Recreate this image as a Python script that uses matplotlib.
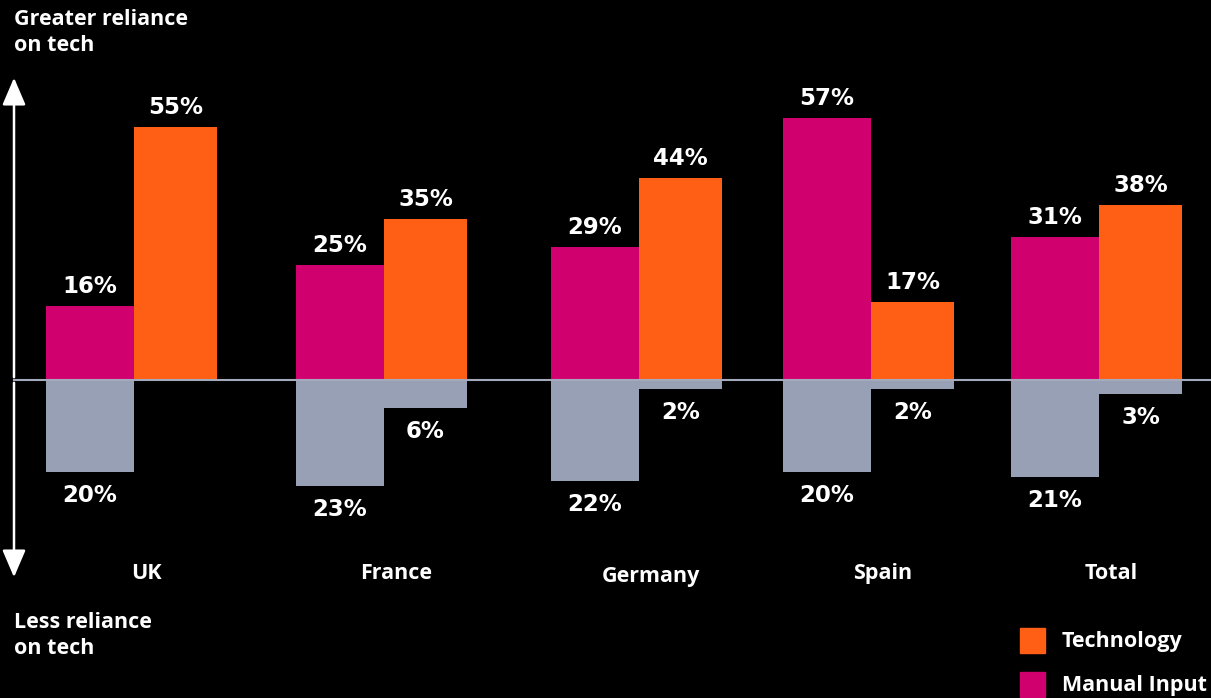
import matplotlib
matplotlib.use("Agg")
import matplotlib.pyplot as plt
from matplotlib.patches import FancyArrowPatch, Rectangle

categories = ["UK", "France", "Germany", "Spain", "Total"]
manual_pos = [16, 25, 29, 57, 31]
tech_pos = [55, 35, 44, 17, 38]
manual_neg = [20, 23, 22, 20, 21]
tech_neg = [0, 6, 2, 2, 3]

MAGENTA = "#D0006F"
ORANGE = "#FF5F14"
GRAY = "#97A0B5"
WHITE = "#FFFFFF"

W, H = 1211, 698
fig = plt.figure(figsize=(W / 100, H / 100), dpi=100, facecolor="black")
ax = fig.add_axes([0, 0, 1, 1])
ax.set_facecolor("black")

scale = 4.6  # px per percent
zero_px = 380  # from top
ax.set_xlim(0, W)
ax.set_ylim(-(H - zero_px) / scale, zero_px / scale)
ax.axis("off")

centers = [134, 384, 639, 871, 1099]
wm, wt = 88, 83
pct_font = dict(family="DejaVu Sans", fontweight="bold", fontsize=16.5, color=WHITE)
lab_font = dict(family=["Open Sans", "DejaVu Sans"], fontweight="bold", color=WHITE)

ax.bar(centers, manual_pos, width=-wm, align="edge", color=MAGENTA, zorder=2)
ax.bar(centers, tech_pos, width=wt, align="edge", color=ORANGE, zorder=2)
ax.bar(centers, [-v for v in manual_neg], width=-wm, align="edge", color=GRAY, zorder=2)
ax.bar(centers, [-v for v in tech_neg], width=wt, align="edge", color=GRAY, zorder=2)

px = 1 / scale
cat_base = [579, 579, 582, 579, 579]
for c, mp, tp, mn, tn, cat, cb in zip(centers, manual_pos, tech_pos, manual_neg, tech_neg, categories, cat_base):
    ax.text(c - wm / 2, mp + 8 * px, f"{mp}%", ha="center", va="bottom", **pct_font)
    ax.text(c + wt / 2, tp + 8 * px, f"{tp}%", ha="center", va="bottom", **pct_font)
    ax.text(c - wm / 2, -mn - 12 * px, f"{mn}%", ha="center", va="top", **pct_font)
    if tn:
        ax.text(c + wt / 2, -tn - 12 * px, f"{tn}%", ha="center", va="top", **pct_font)
    ax.text(c + 12, -(cb - zero_px) * px, cat, ha="center", va="baseline", fontsize=15.5, **lab_font)

# zero line
ax.plot([14, W], [0, 0], color="#A4A9BC", lw=1.5, zorder=3)

# double-headed vertical arrow
style = "-|>,head_length=0.7,head_width=0.3"
arrow = FancyArrowPatch((14, 0.0), (14, (zero_px - 75) * px), arrowstyle=style,
                        color=WHITE, lw=1.8, mutation_scale=24, zorder=4)
ax.add_patch(arrow)
arrow2 = FancyArrowPatch((14, 0.0), (14, -(580 - zero_px) * px), arrowstyle=style,
                         color=WHITE, lw=1.8, mutation_scale=24, zorder=4)
ax.add_patch(arrow2)

# annotations
for txt, base in [("Greater reliance", 25), ("on tech", 51), ("Less reliance", 628), ("on tech", 654)]:
    fig.text(14 / W, 1 - base / H, txt, ha="left", va="baseline", fontsize=15.5, **lab_font)

# legend
for y, col, txt in [(628, ORANGE, "Technology"), (672, MAGENTA, "Manual Input")]:
    fig.patches.append(Rectangle((1020 / W, 1 - (y + 25) / H), 25 / W, 25 / H,
                                 transform=fig.transFigure, color=col, figure=fig))
    fig.text(1062 / W, 1 - (y + 19) / H, txt, ha="left", va="baseline", fontsize=15.5, **lab_font)

fig.savefig("out.png", dpi=100, facecolor="black")
